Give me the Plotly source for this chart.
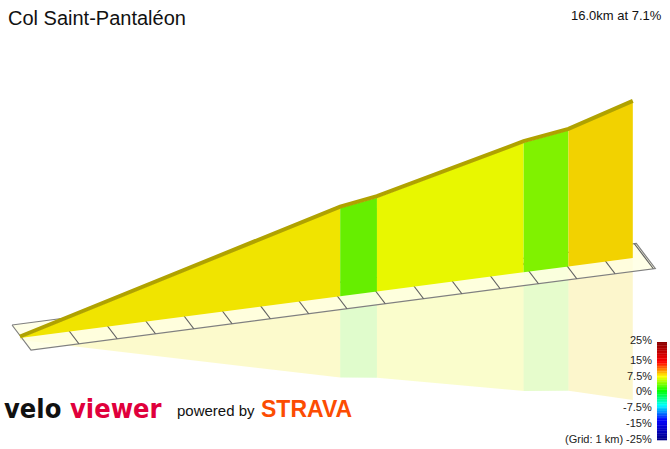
import plotly.graph_objects as go
from plotly.colors import sample_colorscale

# profile data
dist_km = [0, 8.36, 9.32, 13.15, 14.32, 16.0]
elev_m = [0, 643, 684, 946, 993, 1136]
seg_colors = ["#f0e400", "#66ee00", "#e8f700", "#80f200", "#f2d200"]
grade_ticks = ["25%", "15%", "7.5%", "0%", "-7.5%", "-15%", "-25%"]

# oblique projection to page pixels
X0, Y0 = 20, 338
DX, DY = 38.3, -5.0
ZS = 0.137


def proj(d, z=0.0):
    return X0 + d * DX, Y0 + d * DY - z * ZS


fig = go.Figure()

# reflection
for i in range(5):
    x0, b0 = proj(dist_km[i])
    x1, b1 = proj(dist_km[i + 1])
    r0 = b0 + elev_m[i] * ZS * 0.9 + 2
    r1 = b1 + elev_m[i + 1] * ZS * 0.9 + 2
    fig.add_trace(go.Scatter(x=[x0, x1, x1, x0], y=[b0, b1, r1, r0], fill="toself",
                             fillcolor=seg_colors[i], opacity=0.2, mode="none",
                             hoverinfo="skip"))

# grid strip
back = (-8, -13)
front = (11, 12)
sx0, sy0 = proj(0)
sx1, sy1 = proj(16.3)
fig.add_trace(go.Scatter(
    x=[sx0 + back[0], sx1 + back[0], sx1 + front[0], sx0 + front[0], sx0 + back[0]],
    y=[sy0 + back[1], sy1 + back[1], sy1 + front[1], sy0 + front[1], sy0 + back[1]],
    fill="toself", fillcolor="rgba(255,255,225,0.8)", mode="lines",
    line=dict(color="#808080", width=1.2), hoverinfo="skip"))
for k in range(1, 17):
    tx, ty = proj(k + 0.25)
    fig.add_trace(go.Scatter(x=[tx + back[0], tx + front[0]],
                             y=[ty + back[1], ty + front[1]], mode="lines",
                             line=dict(color="#606060", width=1.2), hoverinfo="skip"))

# profile segments
for i in range(5):
    x0, b0 = proj(dist_km[i])
    x1, b1 = proj(dist_km[i + 1])
    _, t0 = proj(dist_km[i], elev_m[i])
    _, t1 = proj(dist_km[i + 1], elev_m[i + 1])
    fig.add_trace(go.Scatter(x=[x0, x1, x1, x0], y=[b0, b1, t1, t0], fill="toself",
                             fillcolor=seg_colors[i], mode="none", hoverinfo="skip"))

# top edge
tops = [proj(d, z) for d, z in zip(dist_km, elev_m)]
fig.add_trace(go.Scatter(x=[p[0] for p in tops], y=[p[1] - 1.5 for p in tops],
                         mode="lines", line=dict(color="#b0a200", width=4),
                         hoverinfo="skip"))

# colour bar
cs = [[0, "#00008b"], [0.2, "#0000ff"], [0.35, "#00ffff"], [0.5, "#00ff00"],
      [0.65, "#ffff00"], [0.8, "#ff0000"], [1, "#8b0000"]]
n = 60
cols = sample_colorscale(cs, [1 - j / (n - 1) for j in range(n)])
shapes = []
for j in range(n):
    ya = 342 + j * 98 / n
    shapes.append(dict(type="rect", x0=657, x1=667, y0=ya, y1=ya + 98 / n + 0.3,
                       fillcolor=cols[j], line=dict(width=0), layer="above"))
tick_y = [340, 360, 376, 391, 407, 423, 439]
ann = [dict(x=654, y=yy, text=t, xanchor="right", yanchor="middle", showarrow=False,
            font=dict(size=11, color="#222")) for t, yy in zip(grade_ticks, tick_y)]
ann[-1]["text"] = "(Grid: 1 km) -25%"

ann += [
    dict(x=6, y=18, text="Col Saint-Pantaléon", xanchor="left", yanchor="middle",
         showarrow=False, font=dict(size=20, color="#111")),
    dict(x=664, y=15, text="16.0km at 7.1%", xanchor="right", yanchor="middle",
         showarrow=False, font=dict(size=13, color="#111")),
    dict(x=2, y=408, text="<b>velo</b>", xanchor="left", yanchor="middle",
         showarrow=False, font=dict(size=27, color="#111", family="DejaVu Sans Condensed")),
    dict(x=68, y=408, text="<b>viewer</b>", xanchor="left", yanchor="middle",
         showarrow=False, font=dict(size=27, color="#e0003c", family="DejaVu Sans Condensed")),
    dict(x=175, y=410, text="powered by", xanchor="left", yanchor="middle",
         showarrow=False, font=dict(size=15, color="#111")),
    dict(x=259, y=409, text="<b>STRAVA</b>", xanchor="left", yanchor="middle",
         showarrow=False, font=dict(size=23, color="#fc4c02")),
]

fig.update_layout(
    width=670, height=449, margin=dict(l=0, r=0, t=0, b=0),
    paper_bgcolor="white", plot_bgcolor="white", showlegend=False,
    xaxis=dict(range=[0, 670], visible=False, fixedrange=True),
    yaxis=dict(range=[449, 0], visible=False, fixedrange=True),
    shapes=shapes, annotations=ann,
    font=dict(family="Liberation Sans, Arial, sans-serif"),
)
fig.write_html("out.html", config={"displayModeBar": False},
               post_script="document.body.style.margin='0';document.body.style.overflow='hidden';")
